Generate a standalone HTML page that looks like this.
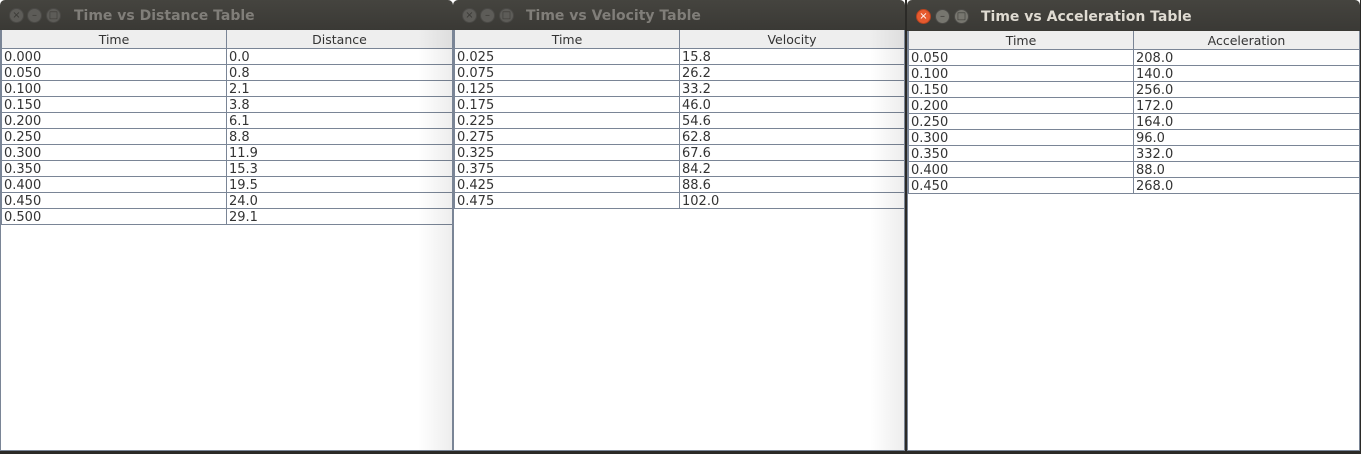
<!DOCTYPE html>
<html><head><meta charset="utf-8"><style>
body{margin:0;width:1361px;height:454px;background:#2b2a27;position:relative;overflow:hidden;font-family:"DejaVu Sans","Liberation Sans",sans-serif;}
.win{position:absolute;top:0;background:#fff;}
.tb{position:absolute;left:0;right:0;top:0;height:30px;background:linear-gradient(#45443f,#3a3935);border-radius:5px 5px 0 0;}
.tt{position:absolute;top:8px;font-size:14px;font-weight:bold;color:#807e79;white-space:nowrap;}
.btn{position:absolute;top:8px;width:15px;height:15px;border-radius:50%;background:#5d5c58;border:1px solid #4a4946;box-sizing:border-box;color:#3a3935;font-size:10px;line-height:13px;text-align:center;}
.content{position:absolute;left:0;right:0;top:30px;bottom:0;border:1px solid #7a8596;border-top:none;background:#fff;}
table{border-collapse:collapse;position:absolute;left:0;top:0;table-layout:fixed;font-size:13px;color:#333;}
th{height:18px;background:#eeeeee;font-weight:normal;border:1px solid #7a8596;border-top:none;padding:0;text-align:center;color:#333;font-size:12.5px;}
td{height:15px;border:1px solid #7a8596;padding:0 0 0 2px;line-height:15px;white-space:nowrap;}
td span{position:relative;top:1px;}
.shadow{position:absolute;top:0;bottom:0;width:34px;background:linear-gradient(to right,rgba(0,0,0,0),rgba(0,0,0,0.07));pointer-events:none;}
</style></head><body>
<div class="win" style="left:0;width:453px;height:451px;">
 <div class="tb">
  <div class="btn" style="left:9px">×</div>
  <div class="btn" style="left:27px">–</div>
  <div class="btn" style="left:46px">□</div>
  <div class="tt" style="left:74px">Time vs Distance Table</div>
 </div>
 <div class="content"><table id="t1" style="width:452px"></table><div class="shadow" style="right:0"></div></div>
</div>
<div class="win" style="left:453px;width:452px;height:451px;">
 <div class="tb">
  <div class="btn" style="left:9px">×</div>
  <div class="btn" style="left:27px">–</div>
  <div class="btn" style="left:46px">□</div>
  <div class="tt" style="left:73px">Time vs Velocity Table</div>
 </div>
 <div class="content"><table id="t2" style="width:451px"></table><div class="shadow" style="right:0"></div></div>
</div>
<div class="win" style="left:907px;width:453px;height:451px;">
 <div class="tb" style="height:31px">
  <div class="btn" style="left:9px;top:9px;background:#e65a2f;border-color:#b8431f;color:#fff">×</div>
  <div class="btn" style="left:28px;top:9px;background:#77766f">–</div>
  <div class="btn" style="left:47px;top:9px;background:#77766f">□</div>
  <div class="tt" style="left:74px;top:9px;color:#dfdbd2">Time vs Acceleration Table</div>
 </div>
 <div class="content" style="top:31px"><table id="t3" style="width:452px"></table></div>
</div>
<script>
const distTime=["0.000","0.050","0.100","0.150","0.200","0.250","0.300","0.350","0.400","0.450","0.500"];
const distVals=["0.0","0.8","2.1","3.8","6.1","8.8","11.9","15.3","19.5","24.0","29.1"];
const velTime=["0.025","0.075","0.125","0.175","0.225","0.275","0.325","0.375","0.425","0.475"];
const velVals=["15.8","26.2","33.2","46.0","54.6","62.8","67.6","84.2","88.6","102.0"];
const accTime=["0.050","0.100","0.150","0.200","0.250","0.300","0.350","0.400","0.450"];
const accVals=["208.0","140.0","256.0","172.0","164.0","96.0","332.0","88.0","268.0"];
function build(id,h2,times,vals){
 const t=document.getElementById(id);
 const cg=document.createElement('colgroup');cg.innerHTML='<col style="width:225px"><col>';t.appendChild(cg);
 const hr=document.createElement('tr');
 
 
 ['Time',h2].forEach(h=>{const th=document.createElement('th');th.textContent=h;
  
  
  hr.appendChild(th);});
 t.appendChild(hr);
 times.forEach((tm,i)=>{const tr=document.createElement('tr');
  
  
  [tm,vals[i]].forEach(v=>{const td=document.createElement('td');
   const sp=document.createElement('span');sp.textContent=v;td.appendChild(sp);
   
   
   tr.appendChild(td);});
  t.appendChild(tr);});
}
build('t1','Distance',distTime,distVals);
build('t2','Velocity',velTime,velVals);
build('t3','Acceleration',accTime,accVals);
</script>
</body></html>
